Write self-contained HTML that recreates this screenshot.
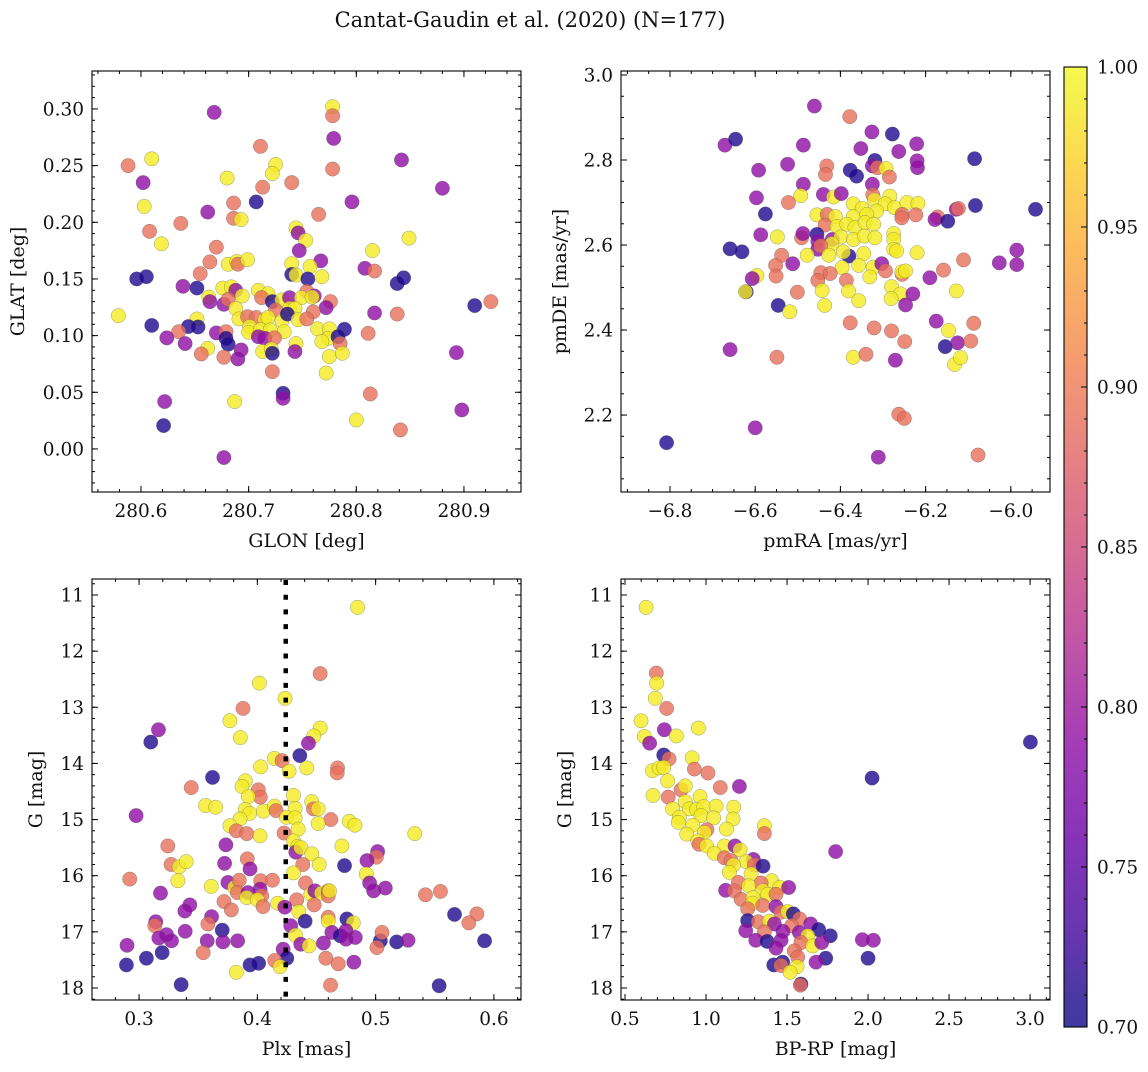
<!DOCTYPE html>
<html><head><meta charset="utf-8"><style>
body{margin:0;background:#fff}
svg text{font-family:"DejaVu Serif","Liberation Serif",serif;fill:#111}
</style></head><body>
<svg id="fig" width="1148" height="1067" viewBox="0 0 1148 1067" xmlns="http://www.w3.org/2000/svg">
<defs>
<linearGradient id="cbgrad" x1="0" y1="1" x2="0" y2="0">
<stop offset="0" stop-color="#0d0887"/><stop offset="0.1" stop-color="#41049d"/><stop offset="0.2" stop-color="#6a00a8"/><stop offset="0.3" stop-color="#8f0da4"/><stop offset="0.4" stop-color="#b12a90"/><stop offset="0.5" stop-color="#cc4778"/><stop offset="0.6" stop-color="#e16462"/><stop offset="0.7" stop-color="#f2844b"/><stop offset="0.8" stop-color="#fca636"/><stop offset="0.9" stop-color="#fcce25"/><stop offset="1" stop-color="#f0f921"/>
</linearGradient>
</defs>
<text x="530" y="27" font-size="21" text-anchor="middle">Cantat-Gaudin et al. (2020) (N=177)</text>
</svg>
<script>
// Panel 1: GLON vs GLAT
const p1x=[280.668,280.778,280.778,280.779,280.711,280.842,280.588,280.610,280.725,280.722,
280.778,280.602,280.680,280.713,280.740,280.880,280.707,280.796,280.603,280.686,
280.662,280.686,280.693,280.765,280.608,280.637,280.619,280.744,280.746,280.753,
280.849,280.747,280.670,280.815,280.664,280.681,280.689,280.690,280.699,280.767,
280.740,280.757,280.808,280.817,280.655,280.596,280.605,280.740,280.744,280.755,
280.768,280.838,280.844,280.639,280.652,280.676,280.684,280.688,280.709,280.718,
280.694,280.663,280.664,280.677,280.681,280.712,280.722,280.731,280.738,280.754,
280.761,280.749,280.759,280.776,280.772,280.910,280.925,280.579,280.688,280.738,
280.743,280.725,280.760,280.817,280.838,280.610,280.652,280.691,280.699,280.707,
280.715,280.718,280.731,280.736,280.746,280.754,280.644,280.653,280.635,280.701,
280.700,280.711,280.720,280.733,280.764,280.775,280.789,280.811,280.624,280.670,
280.679,280.679,280.709,280.715,280.724,280.774,280.768,280.783,280.641,280.681,
280.744,280.743,280.785,280.662,280.656,280.677,280.693,280.690,280.713,280.721,
280.722,280.775,280.787,280.893,280.722,280.772,280.732,280.732,280.813,280.622,
280.687,280.898,280.800,280.841,280.621,280.677];
const p1y=[0.297,0.302,0.294,0.274,0.267,0.255,0.250,0.256,0.251,0.243,
0.247,0.235,0.239,0.231,0.235,0.230,0.218,0.218,0.214,0.217,
0.209,0.2035,0.2024,0.207,0.192,0.199,0.181,0.195,0.1906,0.184,
0.186,0.175,0.178,0.175,0.165,0.163,0.1653,0.163,0.167,0.166,
0.1635,0.161,0.1594,0.157,0.1547,0.150,0.152,0.154,0.1535,0.150,
0.152,0.146,0.151,0.1435,0.142,0.142,0.143,0.140,0.140,0.137,
0.135,0.134,0.130,0.1276,0.132,0.1335,0.130,0.1315,0.1335,0.139,
0.135,0.1335,0.134,0.130,0.1247,0.1265,0.130,0.1176,0.124,0.124,
0.124,0.1226,0.121,0.120,0.119,0.109,0.1147,0.1147,0.1167,0.116,
0.114,0.116,0.113,0.119,0.114,0.1147,0.108,0.1076,0.1035,0.108,
0.103,0.1053,0.105,0.1035,0.106,0.106,0.1056,0.102,0.098,0.1024,
0.1035,0.0976,0.099,0.0976,0.098,0.0976,0.0947,0.099,0.093,0.0924,
0.093,0.0859,0.093,0.0888,0.0838,0.0809,0.0874,0.0794,0.0859,0.0882,
0.0844,0.0815,0.0844,0.085,0.0682,0.067,0.0491,0.0447,0.0485,0.0418,
0.0418,0.0344,0.0256,0.0168,0.0206,-0.0076];
const p1c=[0.79,0.99,0.89,0.79,0.89,0.79,0.89,0.99,0.99,0.99,
0.89,0.79,0.99,0.89,0.89,0.79,0.71,0.79,0.99,0.89,
0.79,0.89,0.99,0.89,0.89,0.89,0.99,0.99,0.79,0.99,
0.99,0.79,0.89,0.99,0.89,0.99,0.99,0.89,0.99,0.79,
0.99,0.99,0.79,0.89,0.89,0.71,0.71,0.71,0.99,0.71,
0.99,0.71,0.71,0.79,0.71,0.99,0.99,0.79,0.99,0.99,
0.99,0.99,0.79,0.79,0.89,0.89,0.71,0.99,0.79,0.89,
0.79,0.99,0.99,0.89,0.79,0.71,0.89,0.99,0.99,0.99,
0.99,0.89,0.89,0.79,0.89,0.71,0.99,0.99,0.89,0.89,
0.99,0.99,0.99,0.71,0.99,0.89,0.71,0.71,0.89,0.99,
0.99,0.99,0.99,0.99,0.99,0.99,0.71,0.89,0.79,0.79,
0.89,0.71,0.79,0.79,0.89,0.99,0.99,0.71,0.79,0.71,
0.99,0.79,0.89,0.99,0.89,0.89,0.79,0.79,0.99,0.99,
0.71,0.99,0.99,0.79,0.89,0.99,0.71,0.79,0.89,0.79,
0.99,0.79,0.99,0.89,0.71,0.79];
const p1xticks=[280.6,280.7,280.8,280.9];
const p1yticks=[0.00,0.05,0.10,0.15,0.20,0.25,0.30];

// Panel 2: pmRA vs pmDE
const p2x=[-6.461,-6.378,-6.326,-6.278,-6.671,-6.646,-6.487,-6.352,-6.263,-6.221,
-6.085,-6.524,-6.592,-6.432,-6.435,-6.377,-6.362,-6.319,-6.325,-6.313,
-6.293,-6.285,-6.220,-6.219,-6.487,-6.325,-6.597,-6.493,-6.440,-6.416,
-6.398,-6.522,-6.324,-6.320,-6.284,-6.370,-6.349,-6.295,-6.273,-6.244,
-6.218,-6.315,-6.576,-6.455,-6.431,-6.412,-6.370,-6.338,-6.255,-6.256,
-6.223,-6.172,-6.178,-6.148,-6.128,-6.123,-6.083,-5.942,-6.436,-6.408,
-6.385,-6.366,-6.342,-6.322,-6.587,-6.548,-6.491,-6.488,-6.455,-6.419,
-6.399,-6.369,-6.344,-6.319,-6.275,-6.275,-6.453,-6.420,-6.659,-6.631,
-6.453,-6.446,-6.380,-6.393,-6.345,-6.275,-6.268,-6.220,-5.986,-5.986,
-6.027,-6.111,-6.538,-6.478,-6.427,-6.512,-6.552,-6.551,-6.596,-6.607,
-6.621,-6.623,-6.396,-6.357,-6.323,-6.303,-6.294,-6.446,-6.424,-6.453,
-6.386,-6.331,-6.255,-6.256,-6.247,-6.190,-6.158,-6.501,-6.443,-6.381,
-6.280,-6.259,-6.281,-6.230,-6.128,-6.546,-6.519,-6.437,-6.357,-6.247,
-6.377,-6.321,-6.280,-6.175,-6.146,-6.087,-6.249,-6.154,-6.125,-6.094,
-6.659,-6.549,-6.370,-6.340,-6.271,-6.132,-6.118,-6.263,-6.250,-6.600,
-6.808,-6.311,-6.077];
const p2y=[2.927,2.902,2.866,2.861,2.835,2.849,2.835,2.827,2.820,2.838,
2.803,2.790,2.776,2.786,2.766,2.776,2.762,2.799,2.786,2.782,
2.780,2.760,2.798,2.782,2.743,2.743,2.711,2.716,2.719,2.713,
2.721,2.700,2.718,2.706,2.715,2.697,2.686,2.697,2.688,2.700,
2.698,2.680,2.673,2.671,2.672,2.667,2.667,2.672,2.672,2.664,
2.671,2.666,2.660,2.656,2.684,2.686,2.693,2.684,2.647,2.644,
2.649,2.641,2.653,2.649,2.624,2.619,2.617,2.627,2.625,2.613,
2.619,2.613,2.621,2.617,2.627,2.613,2.609,2.603,2.591,2.584,
2.590,2.598,2.574,2.584,2.580,2.590,2.586,2.582,2.588,2.554,
2.558,2.565,2.576,2.576,2.576,2.556,2.552,2.527,2.528,2.521,
2.490,2.490,2.547,2.552,2.548,2.556,2.539,2.535,2.533,2.517,
2.517,2.525,2.531,2.537,2.539,2.523,2.541,2.489,2.493,2.492,
2.502,2.485,2.474,2.485,2.492,2.458,2.443,2.458,2.469,2.459,
2.417,2.405,2.398,2.421,2.399,2.416,2.373,2.361,2.370,2.374,
2.354,2.336,2.336,2.343,2.329,2.319,2.335,2.202,2.192,2.170,
2.135,2.101,2.106];
const p2c=[0.79,0.89,0.79,0.71,0.79,0.71,0.79,0.79,0.79,0.79,
0.71,0.79,0.79,0.89,0.89,0.71,0.71,0.71,0.79,0.89,
0.99,0.89,0.79,0.79,0.79,0.79,0.79,0.99,0.79,0.99,
0.79,0.89,0.89,0.99,0.99,0.99,0.99,0.99,0.99,0.99,
0.99,0.99,0.71,0.99,0.89,0.99,0.99,0.99,0.89,0.89,
0.89,0.89,0.79,0.71,0.79,0.89,0.71,0.71,0.89,0.99,
0.99,0.99,0.99,0.99,0.79,0.99,0.89,0.79,0.71,0.79,
0.99,0.99,0.99,0.99,0.99,0.99,0.79,0.99,0.71,0.71,
0.79,0.89,0.71,0.99,0.99,0.99,0.99,0.99,0.79,0.79,
0.79,0.89,0.89,0.99,0.99,0.79,0.89,0.89,0.99,0.79,
0.71,0.99,0.99,0.99,0.99,0.79,0.89,0.89,0.89,0.89,
0.89,0.99,0.89,0.99,0.99,0.79,0.89,0.89,0.99,0.99,
0.99,0.99,0.99,0.79,0.99,0.71,0.99,0.99,0.99,0.79,
0.89,0.89,0.89,0.79,0.99,0.89,0.89,0.71,0.79,0.89,
0.79,0.89,0.99,0.89,0.79,0.99,0.99,0.89,0.89,0.79,
0.71,0.79,0.89];
const p2xticks=[-6.8,-6.6,-6.4,-6.2,-6.0];
const p2yticks=[2.2,2.4,2.6,2.8,3.0];

// Panel 3: Plx vs G
const p3x=[0.4847,0.4531,0.4017,0.4234,0.3879,0.3768,0.3856,0.3164,0.3099,0.4531,
0.4477,0.4432,0.4359,0.4144,0.4209,0.4268,0.4028,0.4418,0.4678,0.4675,
0.3621,0.3441,0.3898,0.3870,0.4008,0.4025,0.3924,0.4305,0.4460,0.4475,
0.4514,0.3562,0.3647,0.3898,0.3935,0.3853,0.4051,0.4144,0.4158,0.4319,
0.4246,0.4319,0.4621,0.4514,0.4777,0.4825,0.2975,0.3768,0.3822,0.3910,
0.4023,0.4226,0.4345,0.5331,0.3243,0.3734,0.4305,0.4339,0.4325,0.4367,
0.4715,0.4460,0.3915,0.5017,0.5006,0.4927,0.3271,0.3339,0.3398,0.3723,
0.3938,0.4384,0.4523,0.4737,0.2921,0.3328,0.4305,0.4921,0.3610,0.3751,
0.3808,0.3847,0.4028,0.4127,0.4407,0.4949,0.4983,0.5082,0.3181,0.3831,
0.3921,0.4023,0.4037,0.3910,0.4000,0.4452,0.4486,0.4542,0.4599,0.4599,
0.4610,0.5421,0.5548,0.3429,0.3387,0.3718,0.3780,0.4048,0.4172,0.4333,
0.4480,0.4350,0.4232,0.5667,0.5856,0.5788,0.3141,0.3133,0.3613,0.3582,
0.3703,0.4404,0.4599,0.4599,0.4757,0.4811,0.4282,0.3390,0.3232,0.3167,
0.3274,0.3576,0.3709,0.3833,0.4322,0.4367,0.4438,0.4559,0.4630,0.4701,
0.4749,0.4749,0.4828,0.5040,0.5054,0.5011,0.5178,0.5274,0.5921,0.2898,
0.2893,0.3062,0.3195,0.3542,0.4218,0.4249,0.4147,0.4192,0.3938,0.4011,
0.3822,0.4579,0.4684,0.4816,0.3356,0.4619,0.5537];
const p3y=[11.22,12.40,12.57,12.84,13.02,13.24,13.54,13.40,13.62,13.37,
13.51,13.64,13.86,13.91,13.95,14.14,14.06,14.08,14.08,14.17,
14.25,14.43,14.31,14.41,14.47,14.60,14.59,14.57,14.68,14.81,
14.81,14.75,14.78,14.82,14.89,14.99,14.85,14.76,14.84,14.80,
14.96,14.97,15.00,15.07,15.03,15.10,14.93,15.11,15.20,15.25,
15.29,15.24,15.17,15.25,15.47,15.45,15.38,15.48,15.58,15.50,
15.47,15.61,15.70,15.57,15.67,15.73,15.80,15.84,15.75,15.78,
15.88,15.80,15.80,15.82,16.06,16.09,15.95,15.97,16.19,16.12,
16.21,16.08,16.09,16.08,16.13,16.13,16.27,16.22,16.31,16.30,
16.30,16.24,16.36,16.39,16.43,16.33,16.27,16.31,16.27,16.36,
16.27,16.34,16.28,16.52,16.63,16.46,16.61,16.55,16.49,16.43,
16.52,16.64,16.56,16.69,16.68,16.84,16.82,16.89,16.73,16.86,
16.97,16.81,16.74,16.81,16.77,16.84,16.89,16.99,17.05,17.11,
17.16,17.16,17.18,17.16,17.06,17.22,17.25,17.20,17.01,17.07,
16.98,17.13,17.10,17.16,17.01,17.28,17.18,17.15,17.16,17.24,
17.59,17.47,17.37,17.37,17.31,17.47,17.51,17.62,17.59,17.56,
17.72,17.47,17.57,17.54,17.94,17.95,17.96];
const p3c=[0.99,0.89,0.99,0.99,0.89,0.99,0.99,0.79,0.71,0.99,
0.99,0.79,0.71,0.99,0.89,0.99,0.99,0.99,0.89,0.89,
0.71,0.89,0.99,0.99,0.89,0.89,0.99,0.99,0.99,0.89,
0.99,0.99,0.99,0.99,0.99,0.99,0.99,0.99,0.89,0.99,
0.99,0.99,0.89,0.99,0.99,0.99,0.79,0.99,0.89,0.89,
0.99,0.89,0.99,0.99,0.89,0.79,0.99,0.99,0.79,0.99,
0.99,0.99,0.89,0.79,0.89,0.79,0.89,0.99,0.99,0.79,
0.79,0.89,0.99,0.71,0.89,0.99,0.99,0.99,0.99,0.79,
0.99,0.89,0.89,0.89,0.89,0.79,0.79,0.79,0.79,0.89,
0.79,0.79,0.89,0.99,0.99,0.99,0.79,0.99,0.89,0.89,
0.99,0.89,0.89,0.79,0.79,0.89,0.89,0.89,0.99,0.89,
0.89,0.99,0.79,0.71,0.89,0.89,0.79,0.89,0.79,0.89,
0.71,0.71,0.89,0.99,0.71,0.99,0.79,0.79,0.79,0.79,
0.79,0.79,0.79,0.79,0.99,0.79,0.99,0.79,0.79,0.71,
0.79,0.79,0.79,0.71,0.89,0.89,0.71,0.79,0.71,0.79,
0.71,0.71,0.71,0.89,0.79,0.71,0.89,0.99,0.71,0.71,
0.99,0.89,0.89,0.79,0.71,0.89,0.71];
const p3xticks=[0.3,0.4,0.5,0.6];
const p3yticks=[11,12,13,14,15,16,17,18];
const plxRef=[0.424];

// Panel 4: BP-RP vs G
const p4x=[0.630,0.693,0.695,0.687,0.757,0.599,0.743,0.953,0.619,0.652,
0.817,0.739,0.772,0.914,0.669,0.710,0.739,0.928,1.012,0.763,
0.846,0.872,1.088,1.206,0.673,0.767,0.963,0.872,0.794,0.897,
0.942,0.986,1.062,1.171,0.835,0.829,0.969,1.047,1.167,0.918,
1.006,0.990,0.881,1.126,1.360,1.360,0.949,0.957,1.004,1.113,
1.179,1.210,1.051,1.113,1.800,1.154,1.292,1.247,1.169,1.298,
1.352,1.144,1.278,1.200,1.405,1.340,1.263,1.455,1.510,1.121,
1.175,1.350,1.381,1.432,1.216,1.290,1.288,1.350,1.257,1.432,
1.463,1.504,1.539,1.257,1.323,1.391,1.422,1.578,1.646,1.529,
1.695,1.245,1.360,1.475,1.576,1.628,1.767,1.307,1.377,1.463,
1.586,1.658,1.714,1.965,2.033,1.432,1.545,1.566,1.739,2.000,
1.679,1.418,1.473,1.463,1.562,1.519,1.586,1.582,2.025,3.002];
const p4y=[11.22,12.39,12.57,12.84,13.02,13.24,13.40,13.37,13.52,13.64,
13.51,13.85,13.92,13.90,14.13,14.08,14.07,14.10,14.17,14.31,
14.47,14.40,14.43,14.41,14.57,14.60,14.59,14.68,14.81,14.81,
14.82,14.77,14.76,14.78,14.96,15.05,14.93,14.97,14.99,15.10,
15.18,15.23,15.26,15.17,15.11,15.25,15.38,15.44,15.47,15.47,
15.47,15.54,15.60,15.68,15.57,15.73,15.71,15.75,15.81,15.81,
15.83,15.94,15.97,16.12,16.09,16.13,16.18,16.21,16.21,16.26,
16.27,16.27,16.33,16.33,16.42,16.39,16.49,16.53,16.59,16.55,
16.65,16.64,16.68,16.80,16.82,16.81,16.86,16.77,16.86,16.89,
16.96,16.98,17.00,16.99,17.01,17.07,17.07,17.15,17.17,17.15,
17.19,17.25,17.19,17.14,17.15,17.29,17.34,17.45,17.47,17.47,
17.54,17.59,17.54,17.60,17.62,17.72,17.93,17.95,14.26,13.62];
const p4c=[0.99,0.89,0.99,0.99,0.89,0.99,0.79,0.99,0.99,0.79,
0.99,0.71,0.89,0.99,0.99,0.99,0.99,0.89,0.89,0.99,
0.89,0.99,0.89,0.79,0.99,0.89,0.99,0.99,0.99,0.99,
0.99,0.99,0.99,0.99,0.99,0.99,0.99,0.99,0.99,0.99,
0.89,0.99,0.99,0.99,0.99,0.89,0.99,0.89,0.99,0.99,
0.79,0.99,0.99,0.89,0.79,0.89,0.79,0.99,0.99,0.89,
0.71,0.99,0.99,0.89,0.99,0.89,0.99,0.99,0.79,0.79,
0.89,0.99,0.99,0.89,0.89,0.99,0.99,0.89,0.89,0.79,
0.89,0.99,0.71,0.71,0.89,0.99,0.79,0.89,0.79,0.89,
0.71,0.79,0.89,0.79,0.79,0.99,0.71,0.79,0.71,0.79,
0.89,0.99,0.79,0.79,0.79,0.79,0.89,0.89,0.71,0.71,
0.79,0.71,0.71,0.89,0.99,0.99,0.71,0.89,0.71,0.71];
const p4xticks=[0.5,1.0,1.5,2.0,2.5,3.0];
const p4yticks=[11,12,13,14,15,16,17,18];

const cbTicks=[0.70,0.75,0.80,0.85,0.90,0.95,1.00];

const NS="http://www.w3.org/2000/svg";
const svg=document.getElementById('fig');
function mk(tag,attrs,parent){const e=document.createElementNS(NS,tag);for(const k in attrs)e.setAttribute(k,attrs[k]);(parent||svg).appendChild(e);return e;}
const stops=[[13,8,135],[65,4,157],[106,0,168],[143,13,164],[177,42,144],[204,71,120],[225,100,98],[242,132,75],[252,166,54],[252,206,37],[240,249,33]];
function plasma(v){let t=Math.max(0,Math.min(1,(v-0.7)/0.3))*10;const i=Math.min(9,Math.floor(t)),f=t-i;const a=stops[i],b=stops[i+1];
return 'rgb('+a.map((x,k)=>Math.round(x+(b[k]-x)*f)).join(',')+')';}
function fmt(v,d){return (v<0?'\u2212':'')+Math.abs(v).toFixed(d);}
const TF=18.5, LF=19;

function panel(o){
  const g=mk('g',{});
  
  
  const X=v=>o.L+(v-o.xd[0])/(o.xd[1]-o.xd[0])*(o.R-o.L);
  const Y=v=>o.B-(v-o.yd[0])/(o.yd[1]-o.yd[0])*(o.B-o.T);
  const pts=mk('g',{},g);
  
  
  for(let i=0;i<o.xs.length;i++){
    const c=mk('circle',{cx:X(o.xs[i]),cy:Y(o.ys[i]),r:7.2,fill:plasma(o.cs[i]),'fill-opacity':0.8,stroke:'#555','stroke-width':0.4,'stroke-opacity':0.7},pts);
    
    
  }
  const tk=mk('g',{stroke:'#000','stroke-width':1},g);
  
  
  const mnx=o.xmin, mny=o.ymin;
  for(let v=Math.ceil(o.xd[0]/mnx)*mnx;v<=o.xd[1];v+=mnx){const x=X(v);mk('line',{x1:x,x2:x,y1:o.B,y2:o.B-3},tk);mk('line',{x1:x,x2:x,y1:o.T,y2:o.T+3},tk);}
  const ylo=Math.min(...o.yd),yhi=Math.max(...o.yd);
  for(let v=Math.ceil(ylo/mny)*mny;v<=yhi;v+=mny){const y=Y(v);mk('line',{x1:o.L,x2:o.L+3,y1:y,y2:y},tk);mk('line',{x1:o.R,x2:o.R-3,y1:y,y2:y},tk);}
  for(const v of o.xt){const x=X(v);mk('line',{x1:x,x2:x,y1:o.B,y2:o.B-6},tk);mk('line',{x1:x,x2:x,y1:o.T,y2:o.T+6},tk);
    const t=mk('text',{x:x,y:o.B+25,'font-size':TF,'text-anchor':'middle'},g);t.textContent=fmt(v,o.xdec);
    
    }
  for(const v of o.yt){const y=Y(v);mk('line',{x1:o.L,x2:o.L+6,y1:y,y2:y},tk);mk('line',{x1:o.R,x2:o.R-6,y1:y,y2:y},tk);
    const t=mk('text',{x:o.L-8,y:y+6.5,'font-size':TF,'text-anchor':'end'},g);t.textContent=fmt(v,o.ydec);
    
    }
  const fr=mk('rect',{x:o.L,y:o.T,width:o.R-o.L,height:o.B-o.T,fill:'none',stroke:'#000','stroke-width':1.1},g);
  
  
  if(o.vline){for(const v of o.vline){const xv=X(v);
    const l=mk('path',{d:'M'+xv+' '+(o.T+1)+' L'+xv+' '+(o.B-1),fill:'none',stroke:'#000','stroke-width':4.5,'stroke-dasharray':'5 9.7'},g);
    
    }}
  const xl=mk('text',{x:(o.L+o.R)/2,y:o.B+55,'font-size':LF,'text-anchor':'middle'},g);xl.textContent=o.xlab;
  
  
  const yc=(o.T+o.B)/2;
  const yl=mk('text',{x:o.ylx,y:yc,'font-size':LF,'text-anchor':'middle',transform:'rotate(-90 '+o.ylx+' '+yc+')'},g);yl.textContent=o.ylab;
  
  
}
panel({name:'glon-glat-panel',L:92,R:521,T:71,B:492,xd:[280.5545,280.953],yd:[-0.038,0.3335],xs:p1x,ys:p1y,cs:p1c,xt:p1xticks,yt:p1yticks,xmin:0.02,ymin:0.01,xdec:1,ydec:2,xlab:'GLON [deg]',ylab:'GLAT [deg]',ylx:24});
panel({name:'proper-motion-panel',L:621,R:1050,T:71,B:492,xd:[-6.915,-5.908],yd:[2.019,3.0094],xs:p2x,ys:p2y,cs:p2c,xt:p2xticks,yt:p2yticks,xmin:0.05,ymin:0.05,xdec:1,ydec:1,xlab:'pmRA [mas/yr]',ylab:'pmDE [mas/yr]',ylx:566});
panel({name:'parallax-magnitude-panel',L:92,R:521,T:579,B:1000,xd:[0.2602,0.6229],yd:[18.214,10.715],xs:p3x,ys:p3y,cs:p3c,xt:p3xticks,yt:p3yticks,xmin:0.02,ymin:0.2,xdec:1,ydec:0,xlab:'Plx [mas]',ylab:'G [mag]',ylx:42,vline:plxRef});
panel({name:'color-magnitude-panel',L:621,R:1050,T:579,B:1000,xd:[0.4753,3.123],yd:[18.214,10.715],xs:p4x,ys:p4y,cs:p4c,xt:p4xticks,yt:p4yticks,xmin:0.1,ymin:0.2,xdec:1,ydec:0,xlab:'BP-RP [mag]',ylab:'G [mag]',ylx:571});

// colorbar
const cb=mk('g',{});


const cbL=1064,cbR=1087,cbT=67,cbB=1027;
mk('rect',{x:cbL,y:cbT,width:cbR-cbL,height:cbB-cbT,fill:'url(#cbgrad)','fill-opacity':0.8},cb);
mk('rect',{x:cbL,y:cbT,width:cbR-cbL,height:cbB-cbT,fill:'none',stroke:'#000','stroke-width':1.1},cb);
const CY=v=>cbB-(v-0.7)/0.3*(cbB-cbT);
for(let k=70;k<=100;k++){const y=CY(k/100);mk('line',{x1:cbR,x2:cbR-3,y1:y,y2:y,stroke:'#000','stroke-width':1},cb);}
for(const v of cbTicks){const y=CY(v);mk('line',{x1:cbR,x2:cbR-6,y1:y,y2:y,stroke:'#000','stroke-width':1},cb);
  const t=mk('text',{x:cbR+10,y:y+6.5,'font-size':TF},cb);t.textContent=v.toFixed(2);
  
  }
</script>
</body></html>
